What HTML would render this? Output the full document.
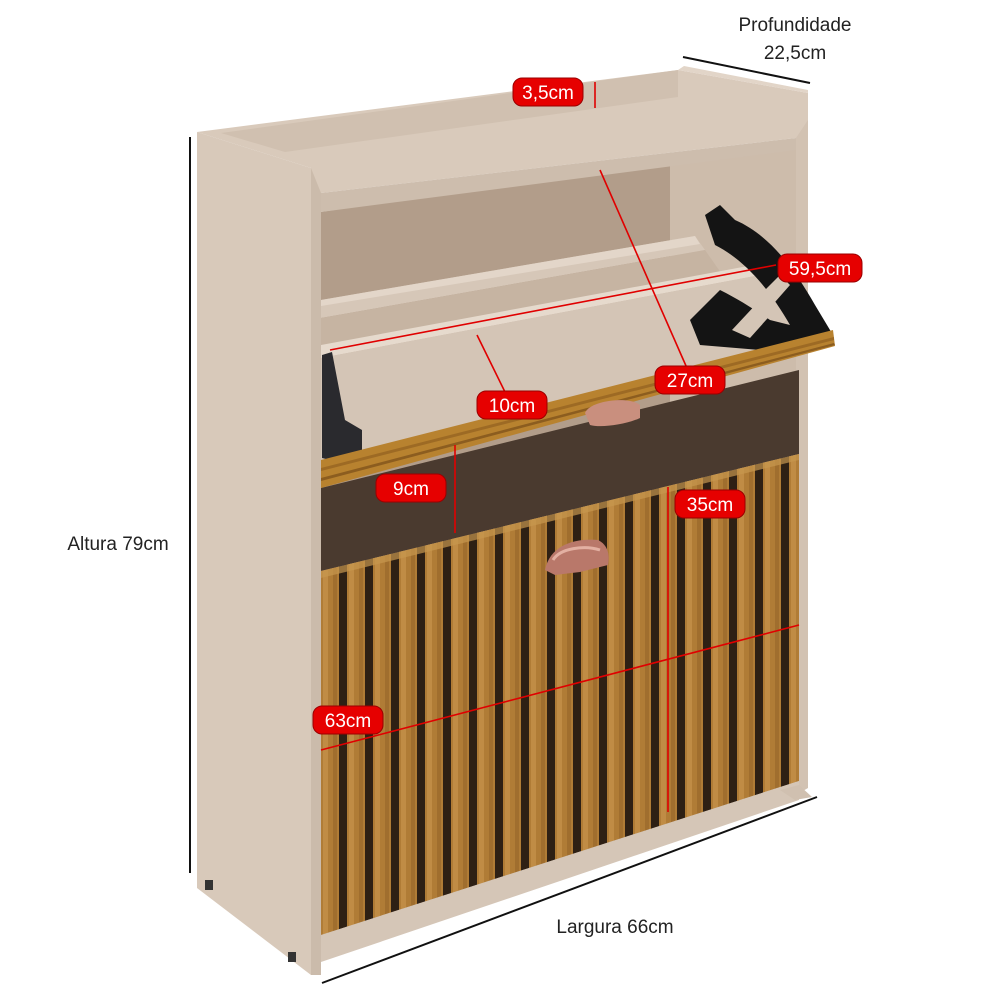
<!DOCTYPE html>
<html><head><meta charset="utf-8"><style>
html,body{margin:0;padding:0;background:#fff;}
svg{display:block;}
text{font-family:"Liberation Sans","DejaVu Sans",sans-serif;}
</style></head><body>
<svg width="1000" height="1000" viewBox="0 0 1000 1000" xmlns="http://www.w3.org/2000/svg">
<defs>
<pattern id="slats" x="321" y="0" width="26" height="1000" patternUnits="userSpaceOnUse">
<rect x="0" y="0" width="26" height="1000" fill="#b07c36"/>
<rect x="2" y="0" width="5" height="1000" fill="#c08c45"/>
<rect x="12" y="0" width="4" height="1000" fill="#a06e2e"/>
<rect x="18" y="0" width="8" height="1000" fill="#2e2014"/>
</pattern>
<clipPath id="door"><polygon points="321,571 799,454 799,781 321,935"/></clipPath>
</defs>
<rect width="1000" height="1000" fill="#fff"/>

<!-- interior back -->
<polygon points="321,212 796,140 796,800 321,960" fill="#bba796"/>
<polygon points="321,212 670,160 670,470 321,560" fill="#b29d8a"/>
<!-- right inner side face -->
<polygon points="670,160 796,145 796,800 670,800" fill="#cdbcab"/>
<!-- right side panel edge -->
<polygon points="796,95 808,93 808,788 796,795" fill="#d2c2b2"/>

<!-- left side panel -->
<polygon points="197,132 311,168 311,975 197,888" fill="#d8c9ba"/>
<polygon points="311,168 321,170 321,975 311,975" fill="#cbbbab"/>
<rect x="205" y="880" width="8" height="10" fill="#333"/>
<rect x="288" y="952" width="8" height="10" fill="#333"/>

<!-- top -->
<polygon points="197,132 678,70 808,93 808,120 796,138 321,193 311,168" fill="#d9cabb"/>
<polygon points="221,133 678,70 678,97 285,152" fill="#d0c0b0"/>
<polygon points="321,193 796,138 796,150 321,212" fill="#cdbdad"/>
<polygon points="678,70 684,66 808,90 808,93" fill="#e2d5c8"/>

<!-- upper tray boards -->
<polygon points="321,300 695,236 705,250 321,318" fill="#d6c7b8"/>
<polygon points="321,300 695,236 700,244 321,306" fill="#e3d6c9"/>
<polygon points="321,318 705,250 740,300 321,390" fill="#c6b4a2"/>
<polygon points="321,345 770,262 776,272 321,358" fill="#e6dacd"/>
<polygon points="321,358 776,272 833,335 321,460" fill="#d4c5b6"/>
<!-- hinges -->
<path d="M705,215 L720,205 L735,220 C770,235 795,270 815,305 L833,335 L760,350 L700,345 L690,320 L720,290 C740,300 755,310 770,320 L790,325 C770,290 745,260 715,245 Z" fill="#141414"/>
<path d="M732,330 L760,300 L775,310 L750,338 Z M755,300 L780,275 L790,285 L768,310 Z" fill="#d4c5b6"/>
<path d="M322,355 L332,352 L345,420 L362,430 L362,450 L330,460 L322,458 Z" fill="#2a2a2e"/>

<!-- dark interior below flap -->
<polygon points="321,488 799,370 799,454 321,571" fill="#4a3a2f"/>
<!-- flap -->
<polygon points="321,460 833,330 835,346 321,488" fill="#b8822f"/>
<polygon points="321,468 834,337 834,340 321,471" fill="#8a5a1e" opacity="0.6"/>
<polygon points="321,478 834,343 835,345 321,481" fill="#6e4515" opacity="0.6"/>
<!-- handle top -->
<path d="M585,413 C590,400 630,396 640,405 L640,418 C625,425 600,428 590,425 Z" fill="#c98f7e"/>

<!-- door -->
<g clip-path="url(#door)"><rect x="321" y="440" width="480" height="500" fill="url(#slats)"/></g>
<polygon points="321,571 799,454 799,460 321,578" fill="#c8974f" opacity="0.7"/>
<!-- base plinth -->
<polygon points="321,935 799,781 799,800 321,962" fill="#d5c6b7"/>
<polygon points="780,790 799,785 812,797 795,800" fill="#d0c0b0"/>
<!-- handle bottom -->
<path d="M545,570 C550,545 575,538 598,540 C608,545 610,555 608,565 L580,572 L555,575 Z" fill="#b9786a"/>
<path d="M553,560 C560,548 585,545 600,550" stroke="#e3b0a2" stroke-width="3" fill="none"/>

<!-- red measure lines -->
<g stroke="#e00000" stroke-width="1.6">
<line x1="595" y1="82" x2="595" y2="108"/>
<line x1="330" y1="350" x2="776" y2="265"/>
<line x1="600" y1="170" x2="690" y2="375"/>
<line x1="477" y1="335" x2="505" y2="392"/>
<line x1="455" y1="445" x2="455" y2="533"/>
<line x1="668" y1="487" x2="668" y2="812"/>
<line x1="321" y1="750" x2="799" y2="625"/>
</g>

<!-- black dim lines -->
<g stroke="#111" stroke-width="2">
<line x1="190" y1="137" x2="190" y2="873"/>
<line x1="322" y1="983" x2="817" y2="797"/>
<line x1="683" y1="57" x2="810" y2="83"/>
</g>

<!-- labels -->
<g fill="#e60000" stroke="#9a0000" stroke-width="1">
<rect x="513" y="78" width="70" height="28" rx="9"/>
<rect x="778" y="254" width="84" height="28" rx="9"/>
<rect x="655" y="366" width="70" height="28" rx="9"/>
<rect x="477" y="391" width="70" height="28" rx="9"/>
<rect x="376" y="474" width="70" height="28" rx="9"/>
<rect x="675" y="490" width="70" height="28" rx="9"/>
<rect x="313" y="706" width="70" height="28" rx="9"/>
</g>
<g fill="#fff" font-size="19" text-anchor="middle">
<text x="548" y="99">3,5cm</text>
<text x="820" y="275">59,5cm</text>
<text x="690" y="387">27cm</text>
<text x="512" y="412">10cm</text>
<text x="411" y="495">9cm</text>
<text x="710" y="511">35cm</text>
<text x="348" y="727">63cm</text>
</g>
<g fill="#222" font-size="19" text-anchor="middle">
<text x="795" y="31">Profundidade</text>
<text x="795" y="59">22,5cm</text>
<text x="118" y="550">Altura 79cm</text>
<text x="615" y="933">Largura 66cm</text>
</g>
</svg>
</body></html>
